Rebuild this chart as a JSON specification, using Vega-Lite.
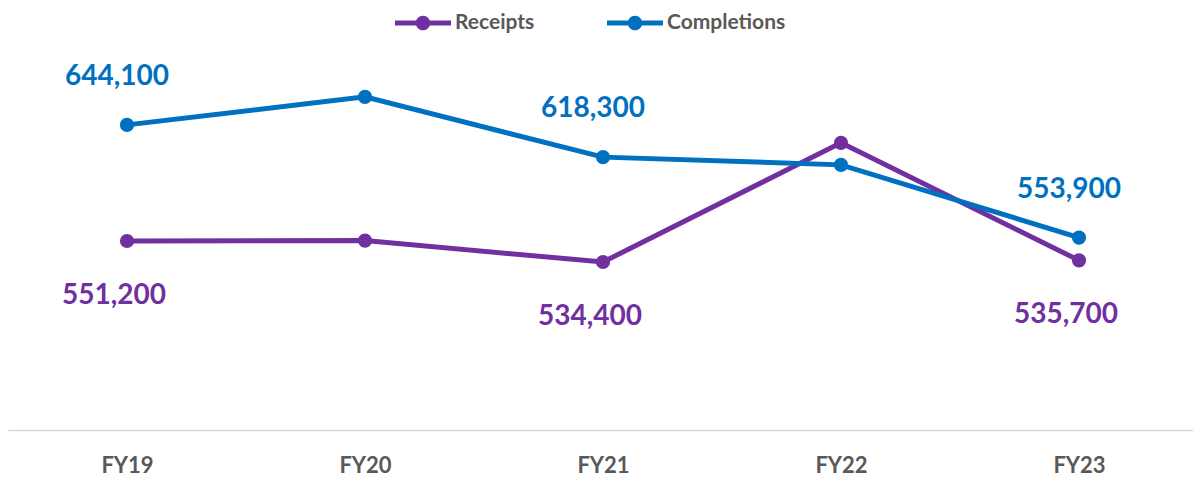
{
  "$schema": "https://vega.github.io/schema/vega-lite/v6.json",
  "width": 1190,
  "height": 375,
  "autosize": {"type": "none"},
  "padding": {"left": 8, "top": 55, "right": 0, "bottom": 49},
  "background": "white",
  "config": {"view": {"stroke": null}, "font": "Lato"},
  "data": {
    "values": [
      {"year": "FY19", "series": "Completions", "value": 644100, "show": true},
      {"year": "FY20", "series": "Completions", "value": 666500, "show": false},
      {"year": "FY21", "series": "Completions", "value": 618300, "show": true},
      {"year": "FY22", "series": "Completions", "value": 612100, "show": false},
      {"year": "FY23", "series": "Completions", "value": 553900, "show": true},
      {"year": "FY19", "series": "Receipts", "value": 551200, "show": true},
      {"year": "FY20", "series": "Receipts", "value": 551500, "show": false},
      {"year": "FY21", "series": "Receipts", "value": 534400, "show": true},
      {"year": "FY22", "series": "Receipts", "value": 629700, "show": false},
      {"year": "FY23", "series": "Receipts", "value": 535700, "show": true}
    ]
  },
  "encoding": {
    "x": {
      "field": "year", "type": "ordinal",
      "scale": {"type": "point", "padding": 0.5},
      "axis": {"title": null, "labelAngle": 0, "labelFont": "Lato", "labelFontSize": 22, "labelFontWeight": "bold", "labelColor": "#595959", "domainColor": "#d9d9d9", "domainWidth": 1.5, "ticks": false, "labelPadding": 25}
    },
    "y": {"field": "value", "type": "quantitative", "scale": {"domain": [400000, 700000]}, "axis": null}
  },
  "layer": [
    {
      "transform": [{"filter": "datum.series === 'Receipts'"}],
      "mark": {"type": "line", "strokeWidth": 5},
      "encoding": {"color": {"field": "series", "type": "nominal", "scale": {"domain": ["Receipts", "Completions"], "range": ["#7030A0", "#0070C0"]},
        "legend": {"title": null, "orient": "none", "legendX": 387, "legendY": -60, "direction": "horizontal",
          "symbolType": "M-1,-0.09 L1,-0.09 L1,0.09 L-1,0.09 Z M-0.26,0 A0.26,0.26 0 1,1 0.26,0 A0.26,0.26 0 1,1 -0.26,0 Z",
          "symbolSize": 3136, "symbolStrokeWidth": 0, "labelFont": "Lato", "labelFontSize": 21, "labelFontWeight": "bold", "labelColor": "#595959", "labelOffset": 4, "columnPadding": 72,
          "encode": {"symbols": {"update": {"fill": {"scale": "color", "field": "value"}, "opacity": {"value": 1}}}}}}}
    },
    {
      "transform": [{"filter": "datum.series === 'Receipts'"}],
      "mark": {"type": "point", "filled": true, "size": 200, "opacity": 1},
      "encoding": {"color": {"field": "series", "type": "nominal"}}
    },
    {
      "transform": [{"filter": "datum.series === 'Completions'"}],
      "mark": {"type": "line", "strokeWidth": 5},
      "encoding": {"color": {"field": "series", "type": "nominal"}}
    },
    {
      "transform": [{"filter": "datum.series === 'Completions'"}],
      "mark": {"type": "point", "filled": true, "size": 200, "opacity": 1},
      "encoding": {"color": {"field": "series", "type": "nominal"}}
    },
    {
      "transform": [{"filter": "datum.show && datum.series === 'Completions'"}],
      "mark": {"type": "text", "dx": -10, "dy": -48, "fontSize": 28, "fontWeight": "bold", "font": "Lato", "color": "#0070C0"},
      "encoding": {"text": {"field": "value", "type": "quantitative", "format": ","}}
    },
    {
      "transform": [{"filter": "datum.show && datum.series === 'Receipts'"}],
      "mark": {"type": "text", "dx": -13, "dy": 55, "fontSize": 28, "fontWeight": "bold", "font": "Lato", "color": "#7030A0"},
      "encoding": {"text": {"field": "value", "type": "quantitative", "format": ","}}
    }
  ]
}
